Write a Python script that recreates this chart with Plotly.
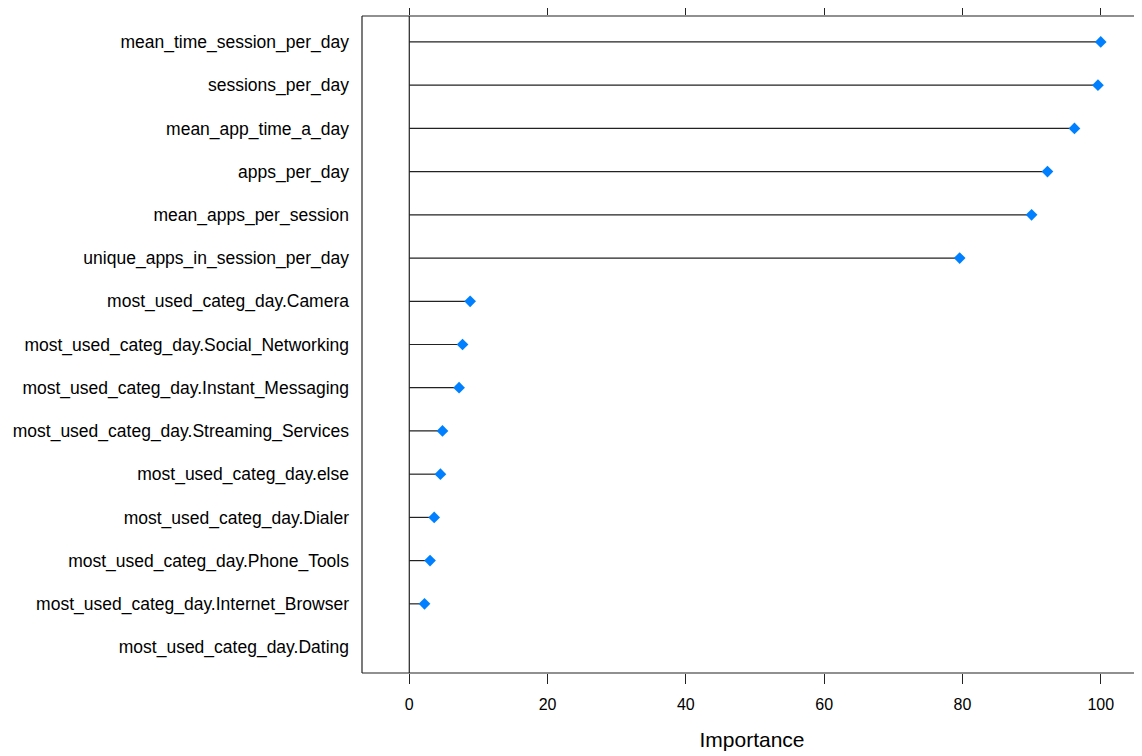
import plotly.graph_objects as go

features = [
    "mean_time_session_per_day",
    "sessions_per_day",
    "mean_app_time_a_day",
    "apps_per_day",
    "mean_apps_per_session",
    "unique_apps_in_session_per_day",
    "most_used_categ_day.Camera",
    "most_used_categ_day.Social_Networking",
    "most_used_categ_day.Instant_Messaging",
    "most_used_categ_day.Streaming_Services",
    "most_used_categ_day.else",
    "most_used_categ_day.Dialer",
    "most_used_categ_day.Phone_Tools",
    "most_used_categ_day.Internet_Browser",
    "most_used_categ_day.Dating",
]
importance = [100.0, 99.6, 96.2, 92.3, 90.0, 79.6, 8.8, 7.7, 7.2, 4.8, 4.5, 3.6, 3.0, 2.2, 0.0]
x_ticks = [0, 20, 40, 60, 80, 100]

FONT = "Liberation Sans, Arial, sans-serif"

# stems
sx, sy = [], []
for f, v in zip(features, importance):
    sx += [0, v, None]
    sy += [f, f, None]

fig = go.Figure()
fig.add_trace(go.Scatter(x=sx, y=sy, mode="lines",
                         line=dict(color="#222222", width=1.2),
                         hoverinfo="skip", showlegend=False))
fig.add_trace(go.Scatter(x=importance, y=features, mode="markers",
                         marker=dict(symbol="diamond", color="#0080FF", opacity=1,
                                     size=[0 if v == 0 else 9 for v in importance],
                                     line=dict(width=0)),
                         showlegend=False))
# invisible trace for top axis
fig.add_trace(go.Scatter(x=[0, 100], y=[features[0], features[0]], xaxis="x2",
                         mode="markers", marker=dict(opacity=0), hoverinfo="skip",
                         showlegend=False))

xr = [-6.84, 105.97]
fig.update_layout(
    width=1134, height=748,
    margin=dict(l=354, r=0, t=8, b=83),
    plot_bgcolor="white", paper_bgcolor="white",
    font=dict(family=FONT, size=16, color="#000000"),
    xaxis=dict(range=xr, tickvals=x_ticks, ticks="outside", ticklen=10,
               tickcolor="#222222", showgrid=False, zeroline=False, showline=False,
               ticklabelstandoff=7,
               tickfont=dict(size=16, color="#000000"),
               title=dict(text="Importance", font=dict(size=21), standoff=20)),
    xaxis2=dict(range=xr, tickvals=x_ticks, ticks="outside", ticklen=9,
                tickcolor="#222222", overlaying="x", side="top",
                showticklabels=False, showgrid=False, zeroline=False, showline=False),
    yaxis=dict(categoryorder="array", categoryarray=features[::-1],
               range=[-0.6, 14.6], showgrid=False, zeroline=False, showline=False,
               ticks="", ticklabelstandoff=12,
               tickfont=dict(size=17.5, color="#000000")),
    shapes=[
        dict(type="line", xref="paper", yref="paper", x0=0, x1=0, y0=0, y1=1,
             line=dict(color="#222222", width=1.2)),
        dict(type="line", xref="paper", yref="paper", x0=0, x1=1, y0=0, y1=0,
             line=dict(color="#222222", width=1.2)),
        dict(type="line", xref="paper", yref="paper", x0=0, x1=1, y0=1, y1=1,
             line=dict(color="#222222", width=1.2)),
        dict(type="line", xref="x", yref="paper", x0=0, x1=0, y0=0, y1=1,
             line=dict(color="#222222", width=1.2)),
    ],
)

fig.write_html("out.html")
